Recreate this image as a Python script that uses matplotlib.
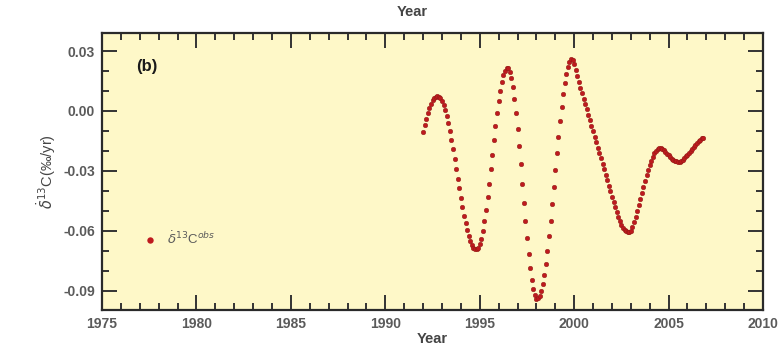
import numpy as np
import matplotlib
matplotlib.use("Agg")
import matplotlib.pyplot as plt
from matplotlib.ticker import MultipleLocator, FixedLocator
from matplotlib.lines import Line2D

plt.rcParams['font.family'] = ['Liberation Sans', 'DejaVu Sans']
plt.rcParams['mathtext.fontset'] = 'dejavusans'

# Monthly series, first value at the start of 1992
start_year = 1992.0
d13c_rate = [
    -0.0103, -0.0070, -0.0038, -0.0010, 0.0015, 0.0036, 0.0053, 0.0064, 0.0071, 0.0073,
    0.0071, 0.0064, 0.0050, 0.0030, 0.0004, -0.0027, -0.0062, -0.0102, -0.0145, -0.0191,
    -0.0240, -0.0289, -0.0338, -0.0387, -0.0435, -0.0480, -0.0523, -0.0562, -0.0597, -0.0627,
    -0.0651, -0.0670, -0.0683, -0.0689,
    -0.0690, -0.0684, -0.0667, -0.0638, -0.0599, -0.0551, -0.0495, -0.0432, -0.0363, -0.0292,
    -0.0219, -0.0147, -0.0077, -0.0011, 0.0049, 0.0101, 0.0146, 0.0179, 0.0202, 0.0214,
    0.0213, 0.0197, 0.0166, 0.0121, 0.0062, -0.0008, -0.0088, -0.0175, -0.0267, -0.0363,
    -0.0458, -0.0550, -0.0637, -0.0717, -0.0787, -0.0846, -0.0891, -0.0922, -0.0938,
    -0.0937, -0.0924, -0.0900, -0.0865, -0.0818, -0.0763, -0.0698, -0.0626, -0.0548, -0.0466,
    -0.0382, -0.0296, -0.0212, -0.0130, -0.0052, 0.0020, 0.0085, 0.0141, 0.0187, 0.0222,
    0.0246, 0.0259,
    0.0257, 0.0236, 0.0206, 0.0174, 0.0144, 0.0117, 0.0090, 0.0062, 0.0035, 0.0008,
    -0.0019, -0.0047, -0.0074, -0.0101, -0.0128, -0.0156, -0.0183, -0.0210, -0.0237, -0.0265,
    -0.0292, -0.0319, -0.0347, -0.0374, -0.0401, -0.0428, -0.0455, -0.0481, -0.0506, -0.0529,
    -0.0550, -0.0568, -0.0583, -0.0595, -0.0602, -0.0606,
    -0.0607, -0.0598, -0.0580, -0.0556, -0.0528, -0.0499, -0.0470, -0.0440, -0.0410, -0.0380,
    -0.0350, -0.0321, -0.0294, -0.0270, -0.0248, -0.0228, -0.0211, -0.0198, -0.0189, -0.0185,
    -0.0185, -0.0189, -0.0196, -0.0204, -0.0213, -0.0222, -0.0231, -0.0239, -0.0245, -0.0249,
    -0.0252, -0.0254, -0.0253, -0.0249, -0.0244, -0.0236, -0.0226, -0.0219, -0.0210, -0.0200,
    -0.0190, -0.0180, -0.0170, -0.0160, -0.0151, -0.0143, -0.0137, -0.0133,
]
years = start_year + np.arange(len(d13c_rate)) / 12.0

x_ticks = [1975, 1980, 1985, 1990, 1995, 2000, 2005, 2010]
y_ticks = [-0.09, -0.06, -0.03, 0.00, 0.03]
y_ticklabels = ['-0.09', '-0.06', '-0.03', '0.00', '0.03']

dot_color = '#BE1A1E'
text_grey = '#5a5a5a'

fig = plt.figure(figsize=(7.79, 3.53), dpi=100)
fig.patch.set_facecolor('white')
ax = fig.add_axes([0.131, 0.122, 0.8485, 0.7845])
ax.set_facecolor('#FEF8C8')

ax.scatter(years, d13c_rate, s=11, color=dot_color, edgecolors='#8a1a14',
           linewidths=0.3, zorder=3)

ax.set_xlim(1975, 2010)
ax.set_ylim(-0.0995, 0.039)

ax.xaxis.set_major_locator(FixedLocator(x_ticks))
ax.xaxis.set_minor_locator(MultipleLocator(1))
ax.yaxis.set_major_locator(FixedLocator(y_ticks))
ax.set_yticklabels(y_ticklabels)
ax.yaxis.set_minor_locator(MultipleLocator(0.01))

ax.tick_params(which='both', direction='in', top=True, right=True,
               color='#333333', width=1.4)
ax.tick_params(which='major', length=11, labelsize=10, labelcolor=text_grey, pad=5)
ax.tick_params(which='minor', length=5)
for lab in ax.get_xticklabels() + ax.get_yticklabels():
    lab.set_fontweight('bold')

for sp in ax.spines.values():
    sp.set_color('#2a2a2a')
    sp.set_linewidth(1.6)

ax.set_xlabel('Year', fontsize=10.5, fontweight='bold', color='#444444', labelpad=1)
fig.text(0.529, 0.965, 'Year', ha='center', va='center', fontsize=10.5,
         fontweight='bold', color='#444444')

ax.set_ylabel(r'$\dot{\delta}^{13}$C(‰/yr)', fontsize=10.5, color='#444444', labelpad=4)

ax.text(0.052, 0.88, '(b)', transform=ax.transAxes, fontsize=12,
        fontweight='bold', color='#1a1a1a', va='center', ha='left')

handle = Line2D([], [], linestyle='none', marker='o', markersize=4.6,
                markerfacecolor=dot_color, markeredgecolor='none')
ax.legend([handle], [r'$\dot{\delta}^{13}$C$^{obs}$'], loc='center left',
          bbox_to_anchor=(0.045, 0.256), frameon=False, handletextpad=0.8,
          fontsize=9.5, labelcolor=text_grey, handlelength=1.0)

fig.savefig('out.png', dpi=100, facecolor='white')
